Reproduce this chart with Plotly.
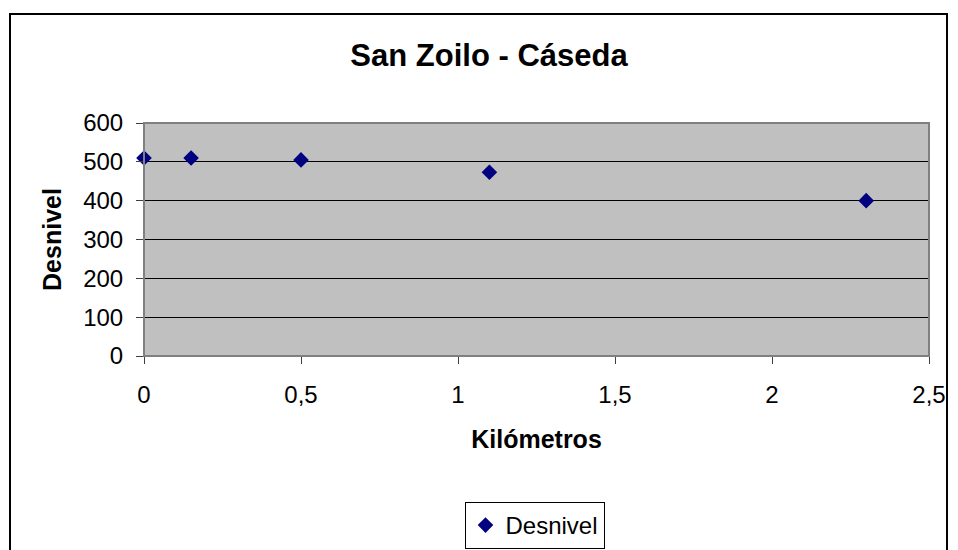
import plotly.graph_objects as go

# Data
kilometros = [0, 0.15, 0.5, 1.1, 2.3]
desnivel = [510, 510, 505, 473, 400]
x_tickvals = [0, 0.5, 1, 1.5, 2, 2.5]
x_ticktext = ["0", "0,5", "1", "1,5", "2", "2,5"]
y_tickvals = [0, 100, 200, 300, 400, 500, 600]

# page has an 8px body margin; figure coordinates below are page coords minus 8
OFF = 8
W, H = 950, 542
L, T = 144 - OFF, 123 - OFF
R = W - (929 - OFF)
B = H - (356 - OFF)
pw, ph = W - L - R, H - T - B

def px_x(p):  # page px -> paper
    return (p - OFF - L) / pw

def px_y(p):
    return (H - B - (p - OFF)) / ph

def cont_y(p):  # page px -> container fraction
    return 1 - (p - OFF) / H

FONT = "Liberation Sans, Arial, sans-serif"

fig = go.Figure()
fig.add_trace(go.Scatter(
    x=kilometros, y=desnivel, mode="markers", name="Desnivel",
    marker=dict(symbol="diamond", color="#000080", size=12, line=dict(width=0)),
    cliponaxis=False,
))

fig.update_layout(
    width=W, height=H,
    margin=dict(l=L, r=R, t=T, b=B, pad=0, autoexpand=False),
    paper_bgcolor="white",
    plot_bgcolor="#C0C0C0",
    font=dict(family=FONT, size=24, color="black"),
    title=dict(text="<b>San Zoilo - Cáseda</b>", font=dict(family=FONT, size=31, color="black"),
               x=px_x(489), xref="paper", xanchor="center",
               y=cont_y(55), yref="container", yanchor="middle"),
    showlegend=True,
    legend=dict(orientation="h", x=px_x(534.5), xanchor="center",
                y=cont_y(502), yref="container", yanchor="top",
                bordercolor="black", borderwidth=1, bgcolor="white",
                font=dict(family=FONT, size=24, color="black")),
    xaxis=dict(range=[0, 2.5], tickvals=x_tickvals, ticktext=x_ticktext, automargin=False,
               showgrid=False, zeroline=False, showline=True, linecolor="#202020", linewidth=1,
               ticks="outside", ticklen=7, tickcolor="#404040", tickwidth=1,
               ticklabelstandoff=10,
               title=dict(text="<b>Kilómetros</b>", font=dict(family=FONT, size=25, color="black"), standoff=23)),
    yaxis=dict(range=[0, 600], tickvals=y_tickvals, automargin=False,
               showgrid=True, gridcolor="black", gridwidth=1, zeroline=False,
               showline=True, linecolor="#404040", linewidth=1,
               ticks="outside", ticklen=7, tickcolor="#404040", tickwidth=1,
               ticklabelstandoff=8,
               title=dict(text="<b>Desnivel</b>", font=dict(family=FONT, size=25, color="black"), standoff=14)),
    shapes=[
        dict(type="rect", xref="paper", yref="paper", x0=0, x1=1, y0=0, y1=1,
             line=dict(color="#808080", width=2), fillcolor="rgba(0,0,0,0)", layer="above"),
        dict(type="rect", xref="paper", yref="paper", x0=px_x(10), x1=px_x(947), y0=px_y(600), y1=px_y(14),
             line=dict(color="black", width=2), fillcolor="rgba(0,0,0,0)", layer="below"),
    ],
)

fig.write_html("out.html")
